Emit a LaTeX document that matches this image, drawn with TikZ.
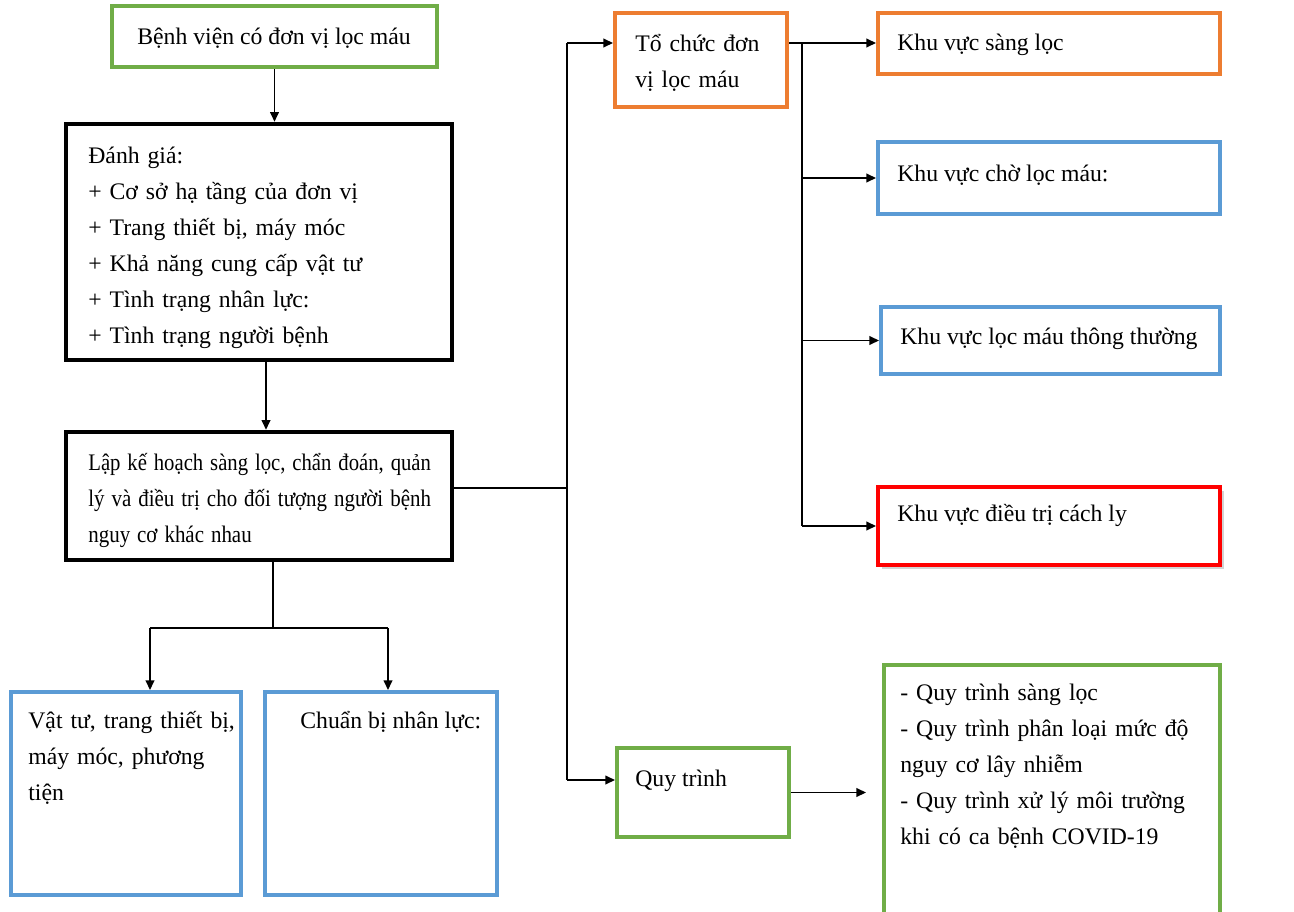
\documentclass[tikz,border=0pt]{standalone}
\usepackage{fontspec}
\setmainfont{Liberation Serif}
\usetikzlibrary{arrows.meta,fit,shadows}
\definecolor{cgreen}{HTML}{70AD47}
\definecolor{cblue}{HTML}{5B9BD5}
\definecolor{corange}{HTML}{ED7D31}
\definecolor{cred}{HTML}{FF0000}
\newcommand{\jline}[2]{\makebox[#1][s]{#2}}
\newcommand{\fitline}[2]{\resizebox{#1}{\height}{#2}}
\begin{document}
\begin{tikzpicture}[x=0.02cm,y=-0.02cm,
  font=\fontsize{13.5}{20.5}\selectfont,
  box/.style={draw, line width=2.3pt, inner sep=0pt, fill=white},
  gbox/.style={box, draw=cgreen},
  bbox/.style={box, draw=cblue},
  obox/.style={box, draw=corange},
  rbox/.style={box, draw=cred, drop shadow={opacity=0.35, shadow xshift=2pt, shadow yshift=-2.5pt}},
  kbox/.style={box, draw=black, line width=2.6pt},
  txt/.style={inner sep=0pt, anchor=north west, text width=9cm, align=left},
  stxt/.style={inner sep=0pt, anchor=base west},
  conn/.style={draw=black, line width=0.8pt},
  arr/.style={conn, -{Triangle[length=5.5pt,width=5pt]}}
]
\clip (0,0) rectangle (1294,912);
\useasboundingbox (0,0) rectangle (1294,912);

% boxes
\node[gbox, fit={(112,6)(437,67)}] (n1) {};
\node[kbox, fit={(66,124)(452,360)}] (n2) {};
\node[kbox, fit={(66,432)(452,560)}] (n3) {};
\node[bbox, fit={(11,692)(241,895)}] (n4) {};
\node[bbox, fit={(265,692)(497,895)}] (n5) {};
\node[obox, fit={(615,13)(787,107)}] (n6) {};
\node[obox, fit={(878,13)(1220,74)}] (n7) {};
\node[bbox, fit={(878,142)(1220,214)}] (n8) {};
\node[bbox, fit={(881,307)(1220,374)}] (n9) {};
\node[rbox, fit={(878,487)(1220,565)}] (n10) {};
\node[gbox, fit={(617,748)(789,837)}] (n11) {};
\node[gbox, fit={(884,665)(1220,930)}] (n12) {};

% texts
\node[stxt] (t1) at (137,45) {Bệnh viện có đơn vị lọc máu};
\node[txt] (t2) at (88,138) {\strut Đánh giá:\\
+ Cơ sở hạ tầng của đơn vị\\
+ Trang thiết bị, máy móc\\
+ Khả năng cung cấp vật tư\\
+ Tình trạng nhân lực:\\
+ Tình trạng người bệnh};
\node[txt] (t3) at (88,445) {\strut\fitline{195pt}{Lập kế hoạch sàng lọc, chẩn đoán, quản}\\
\fitline{195pt}{lý và điều trị cho đối tượng người bệnh}\\
\fitline{93pt}{nguy cơ khác nhau}};
\node[txt] (t4) at (28,703) {\strut\jline{119pt}{Vật tư, trang thiết bị,}\\
\jline{119pt}{máy móc, phương}\\
tiện};
\node[stxt] (t5) at (300,728) {Chuẩn bị nhân lực:};
\node[txt] (t6) at (635,26) {\strut\jline{75.5pt}{Tổ chức đơn}\\
vị lọc máu};
\node[stxt] (t7) at (897,51) {Khu vực sàng lọc};
\node[stxt] (t8) at (897,182) {Khu vực chờ lọc máu:};
\node[stxt] (t9) at (900,344) {Khu vực lọc máu thông thường};
\node[stxt] (t10) at (897,521) {Khu vực điều trị cách ly};
\node[stxt] (t11) at (635,786) {Quy trình};
\node[txt] (t12) at (900,675) {\strut - Quy trình sàng lọc\\
\jline{170pt}{- Quy trình phân loại mức độ}\\
nguy cơ lây nhiễm\\
\jline{170pt}{- Quy trình xử lý môi trường}\\
khi có ca bệnh COVID-19};

% connector points
\coordinate (d2) at (266,0);
\coordinate (j1) at (273,628);
\coordinate (a4) at (150,628);
\coordinate (a5) at (388,628);
\coordinate (s1) at (567,43);
\coordinate (s2) at (567,780);
\coordinate (r1) at (802,43);
\coordinate (q) at (866,0);
\coordinate (e3) at (0,488);

% connectors
\draw[arr] (n1.south) -- (n1.south |- n2.north);
\draw[arr] (d2 |- n2.south) -- (d2 |- n3.north);
\draw[conn] (j1 |- n3.south) -- (j1);
\draw[conn] (a4) -- (a5);
\draw[arr] (a4) -- (a4 |- n4.north);
\draw[arr] (a5) -- (a5 |- n5.north);
\draw[conn] (n3.east |- e3) -- (s1 |- e3);
\draw[conn] (s1) -- (s2);
\draw[arr] (s1) -- (s1 -| n6.west);
\draw[arr] (s2) -- (s2 -| n11.west);
\draw[arr] (r1 -| n6.east) -- (r1 -| n7.west);
\draw[conn] (r1) -- (r1 |- n10.west);
\draw[arr] (n8.west -| r1) -- (n8.west);
\draw[arr] (n9.west -| r1) -- (n9.west);
\draw[arr] (n10.west -| r1) -- (n10.west);
\draw[arr] (n11.east) -- (n11.east -| q);
\end{tikzpicture}
\end{document}
